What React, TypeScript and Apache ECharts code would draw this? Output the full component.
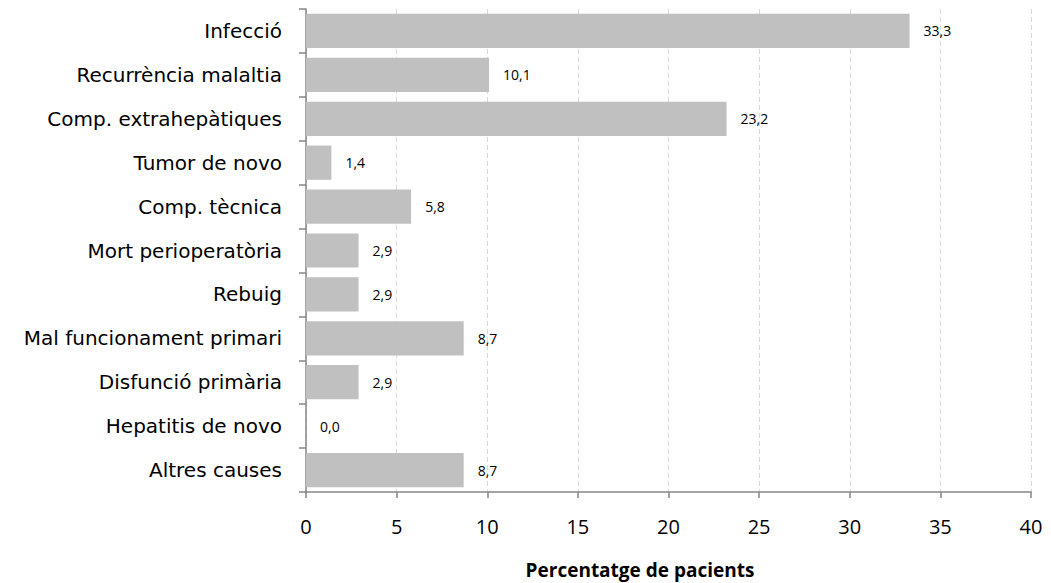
import React, { useEffect, useRef } from "react";
import * as echarts from "echarts";

const categories = [
  "Infecció",
  "Recurrència malaltia",
  "Comp. extrahepàtiques",
  "Tumor de novo",
  "Comp. tècnica",
  "Mort perioperatòria",
  "Rebuig",
  "Mal funcionament primari",
  "Disfunció primària",
  "Hepatitis de novo",
  "Altres causes",
];
const values = [33.3, 10.1, 23.2, 1.4, 5.8, 2.9, 2.9, 8.7, 2.9, 0.0, 8.7];
const xTicks = [0, 5, 10, 15, 20, 25, 30, 35, 40];
const xTitle = "Percentatge de pacients";

const FONT = "'Open Sans', sans-serif";
const CAT_FONT = "'DejaVu Sans', sans-serif";

export default function App() {
  const ref = useRef<HTMLDivElement>(null);
  useEffect(() => {
    const chart = echarts.init(ref.current!, null, { renderer: "svg" });
    chart.setOption({
      animation: false,
      grid: { left: 306, right: 20, top: 9, bottom: 91, containLabel: false },
      xAxis: {
        type: "value",
        min: xTicks[0],
        max: xTicks[xTicks.length - 1],
        interval: 5,
        axisLine: { show: true, lineStyle: { color: "#868686", width: 1.5 } },
        axisTick: { show: true, length: 6, lineStyle: { color: "#868686", width: 1.5 } },
        axisLabel: {
          color: "#000",
          fontFamily: FONT,
          fontSize: 20,
          margin: 24,
          formatter: (v: number) => String(v),
        },
        splitLine: { show: true, lineStyle: { color: "#d9d9d9", type: [5, 3], width: 1 } },
      },
      yAxis: {
        type: "category",
        data: categories,
        inverse: true,
        axisLine: { show: true, lineStyle: { color: "#868686", width: 1.5 } },
        axisTick: { show: true, length: 7, lineStyle: { color: "#868686", width: 1.5 } },
        axisLabel: { color: "#000", fontFamily: CAT_FONT, fontSize: 20, margin: 24 },
      },
      graphic: [
        {
          type: "text",
          x: 640,
          y: 570,
          style: {
            text: xTitle,
            fill: "#000",
            font: `bold 19px ${FONT}`,
            textAlign: "center",
            textVerticalAlign: "middle",
          },
        },
      ],
      series: [
        {
          type: "bar",
          data: values,
          barCategoryGap: "22%",
          itemStyle: { color: "#c0c0c0" },
          label: {
            show: true,
            position: "right",
            distance: 14,
            color: "#000",
            fontFamily: FONT,
            fontSize: 14,
            formatter: (p: any) => p.value.toFixed(1).replace(".", ","),
          },
        },
      ],
    });
    return () => chart.dispose();
  }, []);
  return <div ref={ref} style={{ width: 1051, height: 583, position: "absolute", left: 0, top: 0, background: "#fff" }} />;
}
